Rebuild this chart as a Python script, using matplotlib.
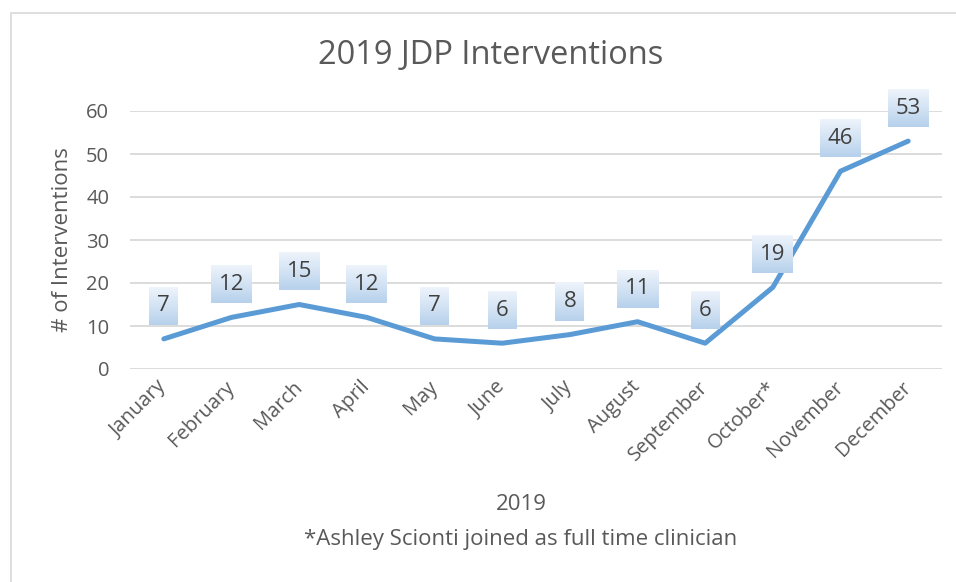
import matplotlib.pyplot as plt
import matplotlib.patches as mpatches
from matplotlib.colors import LinearSegmentedColormap
import numpy as np

plt.rcParams['font.family'] = ['Open Sans', 'DejaVu Sans']

# donnees
months = ["January", "February", "March", "April", "May", "June", "July",
          "August", "September", "October*", "November", "December"]
interventions = [7, 12, 15, 12, 7, 6, 8, 11, 6, 19, 46, 53]
y_ticks = [0, 10, 20, 30, 40, 50, 60]

title = "2019 JDP Interventions"
x_label = "2019"
footnote = "*Ashley Scionti joined as full time clinician"
y_label = "# of Interventions"

text_col = '#595959'
line_col = '#5b9bd5'
grid_col = '#d9d9d9'

fig = plt.figure(figsize=(9.56, 5.82), dpi=100)
W, H = 956, 582

# cadre du graphique (coupe a droite et en bas)
frame = mpatches.Rectangle((10.5 / W, -0.1), 1.2, 1 - 12.5 / H + 0.1,
                           transform=fig.transFigure, fill=False,
                           edgecolor='#d9d9d9', linewidth=1.2)
fig.patches.append(frame)

ax = fig.add_axes([130 / W, 1 - 369 / H, (942 - 130) / W, (369 - 111) / H])
x = np.arange(len(months))
ax.set_xlim(-0.5, len(months) - 0.5)
ax.set_ylim(0, 60)

for s in ax.spines.values():
    s.set_visible(False)
ax.set_yticks(y_ticks)
ax.yaxis.grid(True, color=grid_col, linewidth=1.3)
ax.set_axisbelow(True)
ax.tick_params(axis='both', length=0, colors=text_col, labelsize=14.5)
ax.tick_params(axis='y', pad=15)
ax.set_xticks(x)
ax.set_xticklabels(months, rotation=45, ha='right', va='center',
                   rotation_mode='anchor')
ax.tick_params(axis='x', pad=11)
for lbl in ax.get_xticklabels():
    lbl.set_x(lbl.get_position()[0])

ax.plot(x, interventions, color=line_col, linewidth=3.6, solid_capstyle='round',
        solid_joinstyle='round', zorder=3)

# etiquettes avec fond en degrade
grad = np.linspace(0, 1, 40).reshape(-1, 1)
cmap = LinearSegmentedColormap.from_list('lbl', ['#edf3fb', '#d3e3f4', '#b7d1ec'])
inv = ax.transData.inverted()
for i, v in enumerate(interventions):
    px, py = ax.transData.transform((i, v))
    w = 29 if v < 10 else 41
    x0, y0 = inv.transform((px - w / 2, py + 14))
    x1, y1 = inv.transform((px + w / 2, py + 52))
    ax.imshow(grad, cmap=cmap, extent=(x0, x1, y0, y1), aspect='auto',
              interpolation='nearest', origin='upper', clip_on=False, zorder=4)
    ax.text(i, (y0 + y1) / 2, str(v), ha='center', va='center',
            fontsize=16, color='#404040', zorder=5, clip_on=False)
ax.set_xlim(-0.5, len(months) - 0.5)
ax.set_ylim(0, 60)

fig.text(491 / W, 1 - 56 / H, title, ha='center', va='center',
         fontsize=23.5, color=text_col)
fig.text(62 / W, 1 - 240 / H, y_label, ha='center', va='center',
         rotation=90, fontsize=16, color=text_col)
fig.text(521 / W, 1 - 505 / H, x_label, ha='center', va='center',
         fontsize=16, color=text_col)
fig.text(521 / W, 1 - 539 / H, footnote, ha='center', va='center',
         fontsize=16, color=text_col)

fig.savefig('out.png', dpi=100)
